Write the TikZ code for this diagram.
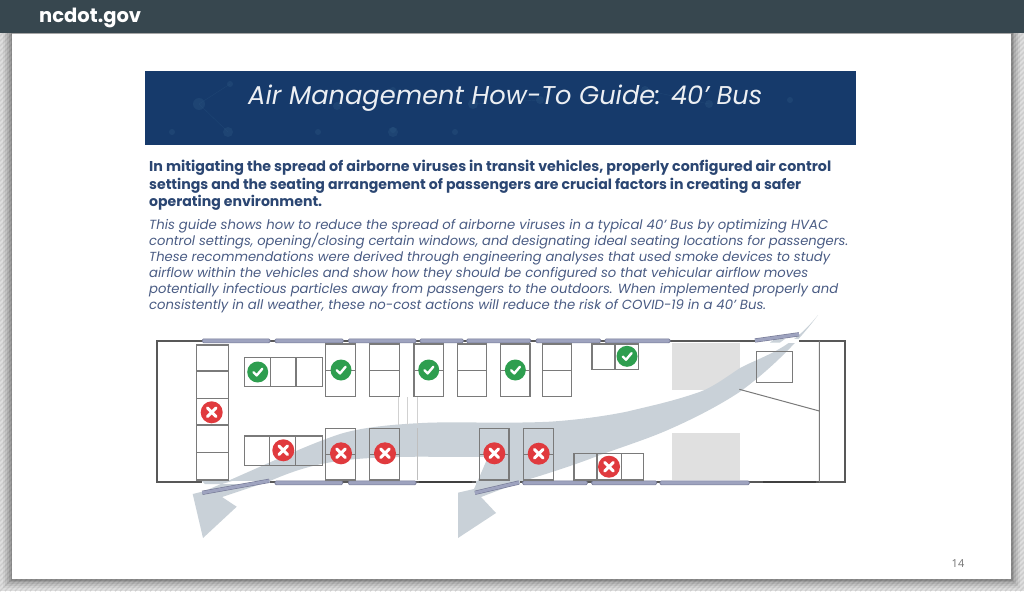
\documentclass[tikz,border=0pt]{standalone}
\usepackage{graphicx}
\usepackage{fontspec}
\setmainfont{Poppins}
\newfontfamily\numfont{Open Sans}
\definecolor{hdr}{HTML}{37474F}
\definecolor{navy}{HTML}{163A6B}
\definecolor{navydot}{HTML}{2A5580}
\definecolor{boldtx}{HTML}{2B4672}
\definecolor{itatx}{HTML}{4A5C84}
\definecolor{wing}{HTML}{9EA3BF}
\definecolor{wingl}{HTML}{767A96}
\definecolor{seatl}{HTML}{7A7A7A}
\definecolor{air}{HTML}{C9D1D8}
\definecolor{blockc}{HTML}{E0E0E0}
\definecolor{okc}{HTML}{2E9E4F}
\definecolor{noc}{HTML}{E03A3E}
\definecolor{busl}{HTML}{585858}
\tikzset{
  seat/.style={draw=seatl,line width=1.2pt},
  win/.style={draw=wingl,fill=wing,line width=.6pt,rounded corners=1.2pt},
  blackwin/.style={line width=2.2pt,draw=black!75},
  txt/.style={inner sep=0pt,anchor=base west},
  okdot/.style={circle,fill=okc,inner sep=0pt,minimum size=21pt},
  nodot/.style={circle,fill=noc,inner sep=0pt,minimum size=22pt},
  texdot/.style={fill=navydot,opacity=.4},
  texline/.style={draw=navydot,line width=.4pt,opacity=.4}
}
\newcommand{\fitline}[6]{\node[txt,text=#5] (#1) at (#2,#3) {\resizebox{#4pt}{!}{#6}};}
\newcommand{\okm}[3]{\node[okdot] (#1) at (#2,#3) {};
  \draw[white,line width=2.4pt,line cap=round,line join=round] (#2-4.2,#3+.3) -- (#2-1,#3+3.4) -- (#2+4.6,#3-3.2);}
\newcommand{\nom}[3]{\node[nodot] (#1) at (#2,#3) {};
  \draw[white,line width=3pt,line cap=round] (#2-4.3,#3-4.3) -- (#2+4.3,#3+4.3) (#2-4.3,#3+4.3) -- (#2+4.3,#3-4.3);}
\newcommand{\dbl}[4]{\draw[seat] (#1,#2) rectangle (#3,#4) (#1,{(#2+#4)/2}) -- (#3,{(#2+#4)/2});}
\begin{document}
\begin{tikzpicture}[x=1pt,y=-1pt]
\useasboundingbox (0,0) rectangle (1024,591);
% backdrop with diagonal hatch
\fill[black!13] (0,0) rectangle (1024,591);
\begin{scope}
\clip (0,0) rectangle (1024,591);
\foreach \k in {-600,-595,...,1040}{\draw[black!20,line width=1.4pt] (\k,591) -- (\k+591,0);}
\end{scope}
% slide shadow
\foreach \d/\o in {9/.05,7/.07,5/.08,3/.10,1.5/.12}{
  \fill[black,opacity=\o] (12-\d,30) rectangle (1011+\d,579+\d);}
% slide
\fill[white] (12,33) rectangle (1011,579);
% header
\fill[hdr] (0,0) rectangle (1024,33);
\fill[black!35] (12,33) rectangle (1011,34);
\fitline{site}{39}{23}{102}{white}{\bfseries ncdot.gov}
% banner
\fill[navy] (145,71) rectangle (856,145);
\foreach \px/\py/\r in {199/104/6,228/132/5,230/84/3,393/90/3,393/130/3,337/106/4,393/132/5,473/104/5,540/100/4,645/90/4,709/104/4,790/100/3,172/132/3,318/132/3,455/132/3}{
  \fill[texdot] (\px,\py) circle (\r);}
\draw[texline] (199,104) -- (230,84) (228,132) -- (199,104) (337,106) -- (393,90) (473,104) -- (540,100) (645,90) -- (709,104);
\fitline{title}{248}{105}{514}{white!92!navy}{\itshape Air Management How-To Guide: 40’ Bus}
% headline text
\fitline{b1}{149}{171}{682}{boldtx}{\bfseries In mitigating the spread of airborne viruses in transit vehicles, properly configured air control}
\fitline{b2}{149}{189}{652}{boldtx}{\bfseries settings and the seating arrangement of passengers are crucial factors in creating a safer}
\fitline{b3}{149}{206}{173}{boldtx}{\bfseries operating environment.}
\fitline{i1}{149}{229}{679}{itatx}{\itshape This guide shows how to reduce the spread of airborne viruses in a typical 40’ Bus by optimizing HVAC}
\fitline{i2}{149}{245}{699}{itatx}{\itshape control settings, opening/closing certain windows, and designating ideal seating locations for passengers.}
\fitline{i3}{149}{261}{681}{itatx}{\itshape These recommendations were derived through engineering analyses that used smoke devices to study}
\fitline{i4}{149}{277}{659}{itatx}{\itshape airflow within the vehicles and show how they should be configured so that vehicular airflow moves}
\fitline{i5}{149}{293}{689}{itatx}{\itshape potentially infectious particles away from passengers to the outdoors. When implemented properly and}
\fitline{i6}{149}{309}{617}{itatx}{\itshape consistently in all weather, these no-cost actions will reduce the risk of COVID-19 in a 40’ Bus.}
% engine blocks
\fill[blockc] (672,343) rectangle (740,390);
\fill[blockc] (672,433) rectangle (740,480);
% airflow
\fill[air] (818,315)
  .. controls (790,350) and (765,355) .. (740,368)
  .. controls (725,378) and (712,388) .. (696.7,393)
  .. controls (670,402) and (650,406) .. (626.7,411.7)
  .. controls (600,417) and (575,420) .. (550,421.7)
  .. controls (500,424) and (450,421) .. (416.7,423.3)
  .. controls (385,425) and (360,428) .. (340,434)
  .. controls (310,444) and (280,458) .. (230,480)
  -- (205,491) -- (192.7,494) -- (203,538) -- (236.7,506.7) -- (222,497)
  -- (270,481)
  .. controls (295,470) and (320,462) .. (356.7,459)
  .. controls (380,457) and (400,457) .. (418,456.7)
  -- (488,457)
  .. controls (484,466) and (480,476) .. (474,489)
  -- (458,492.7) -- (458,538) -- (496,513) -- (481,497)
  -- (523,481)
  .. controls (540,476) and (575,465) .. (600,455)
  .. controls (625,446) and (650,438) .. (670,429)
  .. controls (695,418) and (720,405) .. (740,391.7)
  .. controls (770,370) and (800,340) .. cycle;
% partition
\draw[black!18,line width=1pt] (398,397) -- (398,425) (407.7,397) -- (407.7,425) (417.7,397) -- (417.7,425);
\draw[black!25,line width=1pt] (399.3,428) -- (399.3,480) (417.7,428) -- (417.7,480);
% bus shell
\draw[busl,line width=1.8pt] (156.7,340.7) rectangle (845,482.3);
\draw[seatl,line width=1pt] (819.3,340.7) -- (819.3,482.3) (739.3,389.3) -- (819.3,411);
% top windows
\foreach \a/\b in {202.3/270,275/343.3,348.3/416,420/463.3,466.7/530.7,536/600.7,605/670}{
  \draw[win] (\a,338.8) rectangle (\b,342.8);}
% bottom windows
\foreach \a/\b in {275/342.7,348.3/416,522.7/587.3,591.7/656.7,660/749.3}{
  \draw[win] (\a,480.8) rectangle (\b,484.8);}
\draw[blackwin] (419.3,482) -- (471.7,482) (763.3,482) -- (816,482);
% open doors
\fill[white] (202,481) rectangle (270,484);
\fill[white] (476,481) rectangle (520,484);
\fill[white] (755,339) rectangle (799,342.5);
\fill[air] (202,481) -- (232,481) -- (222,484) -- (205,484) -- cycle;
\fill[air] (476,481) -- (520,481) -- (520,484) -- (476,484) -- cycle;
\fill[air] (775,339) -- (785,339) -- (780,342.5) -- (770,342.5) -- cycle;
\draw[wingl,line width=4.2pt] (202.3,492.8) -- (269.3,480.8);
\draw[wing,line width=3pt] (202.3,492.8) -- (269.3,480.8);
\draw[wingl,line width=4.2pt] (475,492.8) -- (519,482.5);
\draw[wing,line width=3pt] (475,492.8) -- (519,482.5);
\draw[wingl,line width=4.2pt] (755,340.5) -- (799,334.3);
\draw[wing,line width=3pt] (755,340.5) -- (799,334.3);
% rear bench
\draw[seat] (196.7,345) rectangle (228.3,480)
  (196.7,371) -- (228.3,371) (196.7,398.3) -- (228.3,398.3)
  (196.7,425) -- (228.3,425) (196.7,452.3) -- (228.3,452.3);
% triple seats
\draw[seat] (244.3,357.7) rectangle (322.7,386.7) (270.3,357.7) -- (270.3,386.7) (296,357.7) -- (296,386.7);
\draw[seat] (244.3,436) rectangle (322.3,465.3) (269.7,436) -- (269.7,465.3) (295.7,436) -- (295.7,465.3);
\draw[seat] (574,453.7) rectangle (643.7,480) (597,453.7) -- (597,480) (621.3,453.7) -- (621.3,480);
\draw[seat] (592,344) rectangle (638.7,369.7) (615,344) -- (615,369.7);
% double seats
\foreach \a/\b in {325.7/355.3,369.7/399.3,414/443.7,457.3/486.7,500.7/530,542.3/571.7}{\dbl{\a}{344}{\b}{396.3}}
\foreach \a/\b in {325.7/355.3,369.7/399.3,479.3/509,523.3/553.3}{\dbl{\a}{428.3}{\b}{480}}
% front box
\draw[seat] (756.7,351.7) rectangle (792.7,382.3);
% markers
\okm{k1}{257.7}{372}
\okm{k2}{341}{370}
\okm{k3}{428.7}{370}
\okm{k4}{515.3}{370}
\okm{k5}{627}{356.3}
\nom{x1}{211.7}{412.3}
\nom{x2}{283.3}{450.3}
\nom{x3}{341}{453.3}
\nom{x4}{385}{453.3}
\nom{x5}{494.3}{453.3}
\nom{x6}{538.7}{453.7}
\nom{x7}{609}{466.7}
% page number
\node[inner sep=0pt,text=black!55,font=\numfont\fontsize{11}{13}\selectfont] (pg) at (958,564) {14};
\end{tikzpicture}
\end{document}
